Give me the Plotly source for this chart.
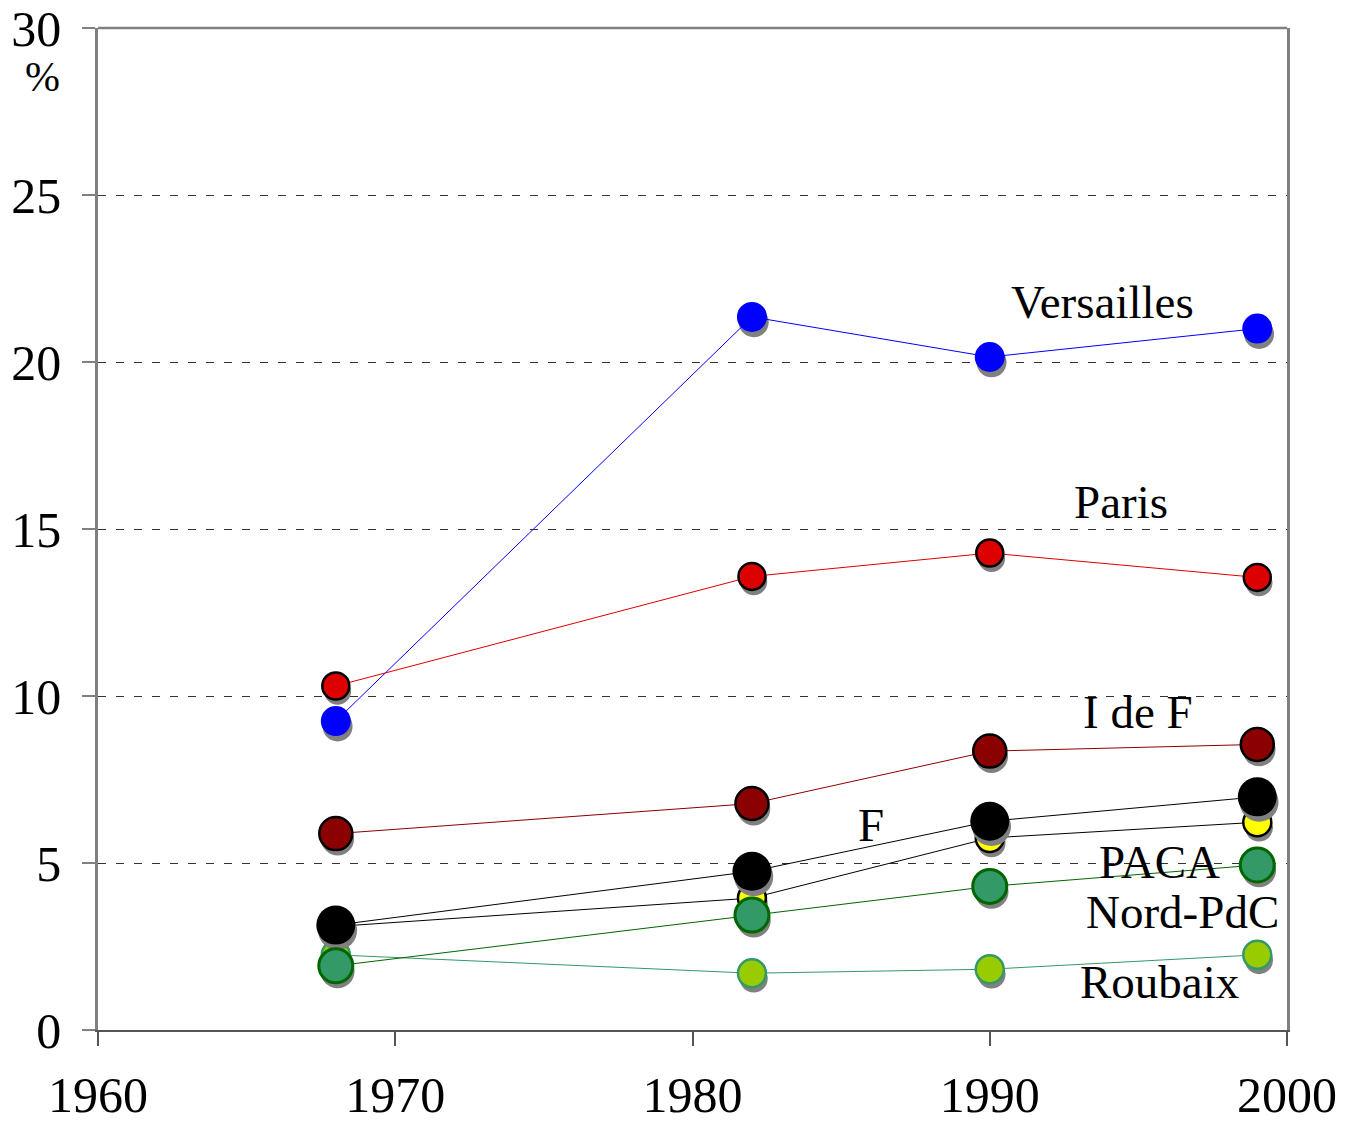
import plotly.graph_objects as go

years = [1968, 1982, 1990, 1999]

versailles = [9.25, 21.35, 20.15, 21.0]
paris = [10.3, 13.58, 14.28, 13.55]
idf = [5.88, 6.78, 8.35, 8.55]
france = [3.14, 4.75, 6.25, 6.98]
paca = [3.1, 3.95, 5.75, 6.22]
nord = [1.92, 3.44, 4.3, 4.94]
roubaix = [2.25, 1.7, 1.82, 2.25]

x_ticks = [1960, 1970, 1980, 1990, 2000]
y_ticks = [0, 5, 10, 15, 20, 25, 30]

FONT = "Liberation Serif, Times New Roman, serif"

# name, values, fill, border color, border width, size, line color
series = [
    ("Versailles", versailles, "#0000FF", "#0000FF", 0, 30, "#0000FF"),
    ("Paris", paris, "#DD0000", "#000000", 2.5, 27, "#DD0000"),
    ("I de F", idf, "#8B0000", "#000000", 2.5, 33, "#8B0000"),
    ("Roubaix", roubaix, "#99CC00", "#339966", 2.5, 28, "#339966"),
    ("PACA", paca, "#FFFF00", "#000000", 2.5, 28, "#000000"),
    ("F", france, "#000000", "#000000", 0, 39, "#000000"),
    ("Nord-PdC", nord, "#339966", "#006600", 3, 34, "#006600"),
]

fig = go.Figure()

for name, vals, fill, border, bw, size, lcol in series:
    # drop shadow (offset from each point)
    fig.add_trace(go.Scatter(
        x=[yv + 0.06 for yv in years], y=[v - 0.16 for v in vals],
        mode="markers",
        marker=dict(size=size, color="#808080", line=dict(width=0)),
        hoverinfo="skip", showlegend=False, cliponaxis=False,
    ))
    fig.add_trace(go.Scatter(
        x=years, y=vals, name=name, mode="lines+markers",
        line=dict(color=lcol, width=1),
        marker=dict(size=size, color=fill, line=dict(color=border, width=bw)),
        showlegend=False, cliponaxis=False,
    ))

labels = [
    ("Versailles", 1993.8, 21.8),
    ("Paris", 1994.4, 15.8),
    ("I de F", 1995.0, 9.52),
    ("F", 1986.0, 6.15),
    ("PACA", 1995.7, 5.03),
    ("Nord-PdC", 1996.5, 3.53),
    ("Roubaix", 1995.7, 1.43),
]
for txt, lx, ly in labels:
    fig.add_annotation(x=lx, y=ly, text=txt, showarrow=False,
                       xanchor="center", yanchor="middle",
                       font=dict(family=FONT, size=47, color="#000000"))

fig.add_annotation(xref="paper", yref="paper", x=-0.047, y=0.951, text="%",
                   showarrow=False, xanchor="center", yanchor="middle",
                   font=dict(family=FONT, size=42, color="#000000"))

# top frame line
fig.add_shape(type="line", xref="paper", yref="paper", x0=0, x1=1, y0=1, y1=1,
              line=dict(color="#808080", width=2.5))

fig.update_layout(
    width=1338, height=1113,
    margin=dict(l=90, r=59, t=20, b=91, autoexpand=False),
    paper_bgcolor="white", plot_bgcolor="white",
    font=dict(family=FONT, size=50, color="#000000"),
    xaxis=dict(range=[1960, 2000], tickvals=x_ticks, ticktext=[str(t) for t in x_ticks],
               showgrid=False, zeroline=False, showline=True, linecolor="#555555",
               linewidth=2, ticks="outside", ticklen=14, tickcolor="#555555",
               tickwidth=1.5, ticklabelstandoff=6, tickfont=dict(size=50),
               ticklabeloverflow="allow", automargin=False),
    yaxis=dict(range=[0, 30], tickvals=y_ticks, ticktext=[str(t) for t in y_ticks],
               showgrid=True, gridcolor="#333333", griddash="8px,10px", gridwidth=1,
               zeroline=False, showline=True, linecolor="#808080", linewidth=2.5,
               mirror=True, ticks="outside", ticklen=13, tickcolor="#808080",
               tickwidth=1.5, ticklabelstandoff=11, tickfont=dict(size=50),
               ticklabeloverflow="allow", automargin=False),
)

fig.write_html("out.html")
